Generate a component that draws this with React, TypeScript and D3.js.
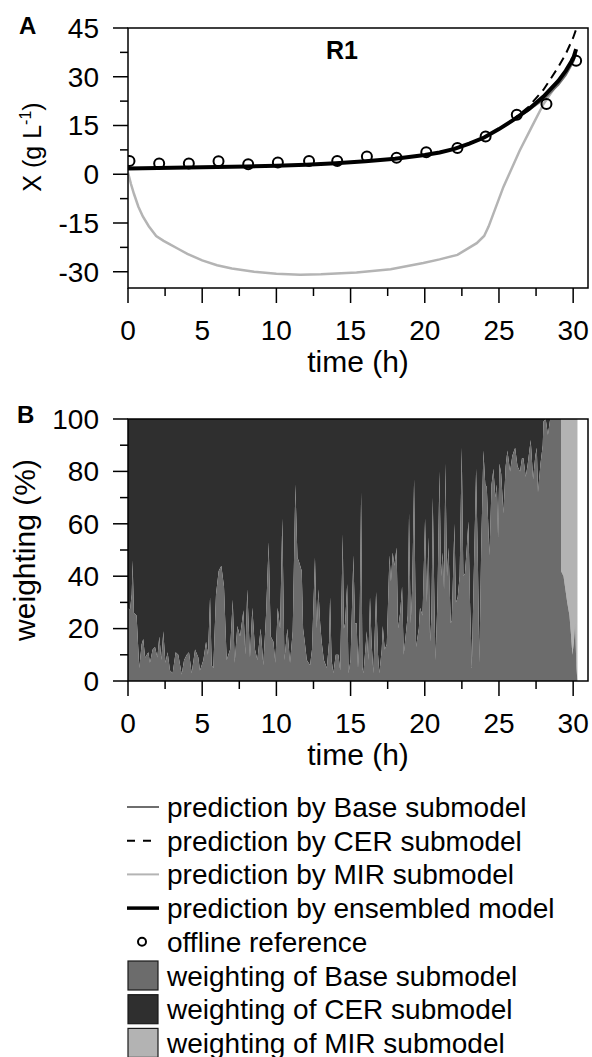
import React from 'react';
import * as d3 from 'd3';

const W = 592;
const H = 1057;
const FONT = '"Liberation Sans", Arial, Helvetica, sans-serif';

// ---------- Panel A data ----------
const offlineTime = [0.1, 2.1, 4.1, 6.1, 8.1, 10.1, 12.2, 14.1, 16.1, 18.1, 20.1, 22.2, 24.1, 26.2, 28.2, 30.2];
const offlineX = [4.1, 3.3, 3.3, 4.0, 3.1, 3.6, 4.1, 4.1, 5.5, 5.1, 6.8, 8.1, 11.6, 18.3, 21.6, 34.9];

const modelTime = [0, 2, 4, 6, 8, 10, 12, 14, 16, 18, 20, 21, 22, 23, 24, 25, 26, 27, 28, 29, 29.5, 30, 30.2];
const ensembleX = [1.8, 1.9, 2.1, 2.2, 2.4, 2.6, 2.9, 3.4, 4.0, 4.8, 5.9, 6.7, 7.8, 9.4, 11.3, 13.9, 16.8, 20.0, 23.9, 28.7, 31.8, 35.6, 38.5];
const cerX = [1.8, 1.9, 2.1, 2.2, 2.4, 2.6, 2.9, 3.4, 4.0, 4.8, 5.9, 6.7, 7.8, 9.4, 11.3, 13.9, 17.0, 20.8, 26.0, 33.0, 37.0, 42.0, 44.6];
const baseX = [1.8, 1.9, 2.1, 2.2, 2.4, 2.6, 2.9, 3.4, 4.0, 4.8, 5.9, 6.7, 7.8, 9.4, 11.3, 13.9, 16.7, 19.6, 23.0, 27.5, 30.5, 34.5, 37.0];

const mirTime = [0, 0.2, 0.4, 0.7, 1.0, 1.4, 1.9, 2.4, 2.8, 3.4, 4.0, 5.0, 6.0, 7.0, 8.5, 10, 11.6, 13, 15.4, 17.7, 19.9, 21, 22.2, 23.5, 24.0, 24.3, 25.3, 26.4, 27.2, 28.0, 29.1, 29.4, 30.0, 30.2];
const mirX = [0.5, -3, -6, -10, -13, -16, -19, -20.5, -21.5, -23, -24.5, -26.5, -28, -29, -30, -30.6, -30.9, -30.8, -30.2, -29.2, -27.3, -26.2, -24.8, -21.2, -19, -16.1, -3.9, 7.3, 14.5, 21.6, 29, 31, 35.5, 37];

const xTicksMajor = [0, 5, 10, 15, 20, 25, 30];
const xTicksMinor = [2.5, 7.5, 12.5, 17.5, 22.5, 27.5];
const yATicksMajor = [-30, -15, 0, 15, 30, 45];
const yATicksMinor = [-22.5, -7.5, 7.5, 22.5, 37.5];
const yBTicksMajor = [0, 20, 40, 60, 80, 100];
const yBTicksMinor = [10, 30, 50, 70, 90];

// ---------- Panel B data (weighting %) ----------
// segment where the remainder belongs to the CER submodel
const weightTimeCER = [
  0, 0.13, 0.25, 0.31, 0.4, 0.58, 0.76, 0.92, 1.03, 1.15,
  1.37, 1.48, 1.66, 1.82, 1.98, 2.11, 2.25, 2.38, 2.52, 2.67,
  2.83, 3.01, 3.21, 3.39, 3.62, 3.78, 3.96, 4.11, 4.29, 4.52,
  4.74, 4.85, 5.08, 5.26, 5.39, 5.53, 5.64, 5.75, 5.93, 6.11,
  6.29, 6.47, 6.65, 6.88, 7.06, 7.19, 7.37, 7.55, 7.78, 7.91,
  8.04, 8.22, 8.38, 8.56, 8.72, 8.94, 9.12, 9.3, 9.48, 9.62,
  9.8, 9.93, 10.09, 10.25, 10.4, 10.54, 10.74, 10.92, 11.1, 11.28,
  11.42, 11.5, 11.71, 11.8, 11.93, 12.05, 12.27, 12.4, 12.6, 12.72,
  12.83, 12.95, 13.05, 13.2, 13.4, 13.55, 13.62, 13.72, 13.84, 14.0,
  14.18, 14.3, 14.47, 14.55, 14.63, 14.77, 14.86, 15.0, 15.19, 15.3,
  15.41, 15.5, 15.6, 15.71, 15.8, 15.87, 16.09, 16.2, 16.31, 16.42,
  16.54, 16.72, 16.85, 16.94, 17.1, 17.17, 17.3, 17.44, 17.62, 17.72,
  17.84, 17.95, 18.1, 18.2, 18.34, 18.47, 18.58, 18.67, 18.85, 18.94,
  19.05, 19.15, 19.28, 19.41, 19.6, 19.68, 19.85, 20.02, 20.14, 20.25,
  20.36, 20.45, 20.54, 20.65, 20.72, 20.85, 20.99, 21.1, 21.21, 21.3,
  21.39, 21.5, 21.6, 21.75, 21.82, 22.0, 22.1, 22.22, 22.35, 22.49,
  22.6, 22.71, 22.82, 22.94, 23.05, 23.17, 23.3, 23.46, 23.58, 23.68,
  23.8, 23.95, 24.08, 24.18, 24.36, 24.5, 24.63, 24.75, 24.86, 24.94,
  25.03, 25.15, 25.3, 25.45, 25.57, 25.75, 25.9, 26.09, 26.25, 26.42,
  26.55, 26.65, 26.8, 26.92, 27.05, 27.14, 27.3, 27.45, 27.55, 27.63,
  27.8, 27.95, 28.0, 28.15, 28.3, 28.45, 29.18,
];
const baseWeightCER = [
  28, 27, 33, 46, 26, 25, 5, 14, 16, 9,
  11, 7, 12, 13, 9, 17, 8, 19, 7, 11,
  4, 3, 11, 10, 2.5, 8, 10, 11, 3, 12,
  9, 4, 8, 15, 10, 32, 6, 5, 33, 42,
  44, 36, 8, 12, 31, 7, 21, 17, 27, 10,
  35, 9, 28, 12, 8, 20, 6, 25, 53, 17,
  15, 7, 28, 20, 62, 8, 20, 7, 19, 75,
  47, 46, 42, 20, 14, 8, 6, 12, 47, 20,
  35, 22, 15, 8, 5, 15, 32, 8, 3, 10,
  10, 4, 56, 20, 22, 37, 3, 8, 48, 22,
  22, 5, 18, 72, 5, 3, 19, 8, 32, 14,
  3, 34, 10, 3, 12, 21, 12, 14, 48, 38,
  49, 44, 51, 20, 26, 36, 10, 15, 25, 64,
  22, 35, 77, 13, 20, 28, 25, 62, 30, 55,
  15, 25, 70, 30, 8, 30, 80, 40, 49, 35,
  83, 40, 51, 22, 23, 60, 30, 32, 40, 89,
  40, 41, 50, 61, 30, 5, 40, 81, 45, 7,
  50, 88, 75, 74, 48, 75, 81, 70, 75, 55,
  83, 79, 64, 82, 88, 80, 86, 89, 82, 80,
  85, 85, 78, 82, 88, 92, 77, 86, 89, 72,
  83, 90, 99, 100, 94, 100, 100,
];
// segment where the remainder belongs to the MIR submodel
const weightTimeMIR = [29.18, 29.35, 29.45, 29.6, 29.75, 29.85, 29.95, 30.05, 30.13, 30.22, 30.29];
const baseWeightMIR = [42, 40, 36, 30, 25, 18, 10, 15, 22, 5, 0];

// ---------- Legend ----------
const legendItems = [
  { label: 'prediction by Base submodel', kind: 'line', color: '#6e6e6e', width: 2, dash: '' },
  { label: 'prediction by CER submodel', kind: 'line', color: '#000', width: 2, dash: '8,8' },
  { label: 'prediction by MIR submodel', kind: 'line', color: '#b4b4b4', width: 2, dash: '' },
  { label: 'prediction by ensembled model', kind: 'line', color: '#000', width: 3.5, dash: '' },
  { label: 'offline reference', kind: 'circle', color: '#000', width: 2, dash: '' },
  { label: 'weighting of Base submodel', kind: 'box', color: '#6c6c6c', width: 1, dash: '' },
  { label: 'weighting of CER submodel', kind: 'box', color: '#2f2f2f', width: 1, dash: '' },
  { label: 'weighting of MIR submodel', kind: 'box', color: '#b3b3b3', width: 1, dash: '' },
];

const C_BASE = '#6c6c6c';
const C_CER = '#2f2f2f';
const C_MIR = '#b3b3b3';

export default function App() {
  const left = 128;
  const right = 588;
  const aTop = 28;
  const aBottom = 288;
  const bTop = 419;
  const bBottom = 681;

  const x = d3.scaleLinear().domain([0, 31]).range([left, right]);
  const yA = d3.scaleLinear().domain([-35, 45]).range([aBottom, aTop]);
  const yB = d3.scaleLinear().domain([0, 100]).range([bBottom, bTop]);

  const series = (ts: number[], vs: number[]) => ts.map((t, i) => [t, vs[i]] as [number, number]);
  const lineA = d3.line<[number, number]>().x((d) => x(d[0])).y((d) => yA(d[1]));

  const cerSeg = series(weightTimeCER, baseWeightCER);
  const mirSeg = series(weightTimeMIR, baseWeightMIR);
  const allBase = cerSeg.concat(mirSeg);

  const baseArea = d3.area<[number, number]>().x((d) => x(d[0])).y0(yB(0)).y1((d) => yB(d[1]));
  const restArea = d3.area<[number, number]>().x((d) => x(d[0])).y0((d) => yB(d[1])).y1(yB(100));

  const axisStroke = 1.5;

  const xAxis = (yBase: number, labelY: number, titleY: number) => (
    <g>
      {xTicksMajor.map((t) => (
        <g key={'M' + t}>
          <line x1={x(t)} x2={x(t)} y1={yBase} y2={yBase + 15} stroke="#000" strokeWidth={axisStroke} />
          <text x={x(t)} y={labelY} textAnchor="middle" fontSize={28} fontFamily={FONT}>{t}</text>
        </g>
      ))}
      {xTicksMinor.map((t) => (
        <line key={'m' + t} x1={x(t)} x2={x(t)} y1={yBase} y2={yBase + 8} stroke="#000" strokeWidth={axisStroke} />
      ))}
      <text x={(left + right) / 2} y={titleY} textAnchor="middle" fontSize={30} fontFamily={FONT}>time (h)</text>
    </g>
  );

  const yAxis = (scale: d3.ScaleLinear<number, number>, major: number[], minor: number[]) => (
    <g>
      {major.map((v) => (
        <g key={'M' + v}>
          <line x1={left - 15} x2={left} y1={scale(v)} y2={scale(v)} stroke="#000" strokeWidth={axisStroke} />
          <text x={99} y={scale(v)} dy="0.35em" textAnchor="end" fontSize={28} fontFamily={FONT}>{v}</text>
        </g>
      ))}
      {minor.map((v) => (
        <line key={'m' + v} x1={left - 8} x2={left} y1={scale(v)} y2={scale(v)} stroke="#000" strokeWidth={axisStroke} />
      ))}
    </g>
  );

  const legendX0 = 127;
  const legendX1 = 159;
  const legendTextX = 167;
  const legendY0 = 807;
  const legendStep = 33.7;

  return (
    <svg width={W} height={H} style={{ position: 'absolute', left: 0, top: 0, background: '#fff' }}>
      <defs>
        <clipPath id="clipA">
          <rect x={left} y={aTop - 2} width={right - left} height={aBottom - aTop + 2} />
        </clipPath>
        <clipPath id="clipB">
          <rect x={left} y={bTop} width={right - left} height={bBottom - bTop} />
        </clipPath>
      </defs>

      {/* ---------- Panel A ---------- */}
      <text x={19} y={34} fontSize={24} fontWeight="bold" fontFamily={FONT}>A</text>
      <g clipPath="url(#clipA)">
        <path d={lineA(series(mirTime, mirX)) || ''} fill="none" stroke="#b4b4b4" strokeWidth={2.5} />
        <path d={lineA(series(modelTime, baseX)) || ''} fill="none" stroke="#6e6e6e" strokeWidth={2} />
        <path d={lineA(series(modelTime, cerX)) || ''} fill="none" stroke="#000" strokeWidth={2} strokeDasharray="9,6" />
        <path d={lineA(series(modelTime, ensembleX)) || ''} fill="none" stroke="#000" strokeWidth={4} />
        {offlineTime.map((t, i) => (
          <circle key={i} cx={x(t)} cy={yA(offlineX[i])} r={5} fill="none" stroke="#000" strokeWidth={2} />
        ))}
      </g>
      <rect x={left} y={aTop} width={right - left} height={aBottom - aTop} fill="none" stroke="#000" strokeWidth={axisStroke} />
      <text x={342} y={59} textAnchor="middle" fontSize={25} fontWeight="bold" fontFamily={FONT}>R1</text>
      {yAxis(yA, yATicksMajor, yATicksMinor)}
      {xAxis(aBottom, 340, 372)}
      <text transform={`translate(41,147) rotate(-90)`} textAnchor="middle" fontSize={25} fontFamily={FONT}>
        X (g L<tspan fontSize={16} dy={-10}>-1</tspan><tspan dy={10}>)</tspan>
      </text>

      {/* ---------- Panel B ---------- */}
      <text x={17} y={423} fontSize={24} fontWeight="bold" fontFamily={FONT}>B</text>
      <g clipPath="url(#clipB)">
        <path d={restArea(cerSeg) || ''} fill={C_CER} stroke="none" />
        <path d={restArea(mirSeg) || ''} fill={C_MIR} stroke="none" />
        <path d={baseArea(allBase) || ''} fill={C_BASE} stroke="none" />
      </g>
      <rect x={left} y={bTop} width={right - left} height={bBottom - bTop} fill="none" stroke="#000" strokeWidth={axisStroke} />
      {yAxis(yB, yBTicksMajor, yBTicksMinor)}
      {xAxis(bBottom, 733, 765)}
      <text transform={`translate(35,550) rotate(-90)`} textAnchor="middle" fontSize={30} fontFamily={FONT}>weighting (%)</text>

      {/* ---------- Legend ---------- */}
      {legendItems.map((it, i) => {
        const cy = legendY0 + i * legendStep;
        let mark: React.ReactNode = null;
        if (it.kind === 'line') {
          mark = (
            <line x1={legendX0} x2={it.dash ? 152 : legendX1} y1={cy} y2={cy} stroke={it.color} strokeWidth={it.width}
              strokeDasharray={it.dash || undefined} />
          );
        } else if (it.kind === 'circle') {
          mark = <circle cx={142} cy={cy} r={4} fill="none" stroke={it.color} strokeWidth={2} />;
        } else {
          mark = <rect x={128} y={cy - 14.5} width={30} height={29} fill={it.color} stroke="#1a1a1a" strokeWidth={1.2} />;
        }
        return (
          <g key={it.label}>
            {mark}
            <text x={legendTextX} y={cy + 10} fontSize={28} fontFamily={FONT}>{it.label}</text>
          </g>
        );
      })}
    </svg>
  );
}
